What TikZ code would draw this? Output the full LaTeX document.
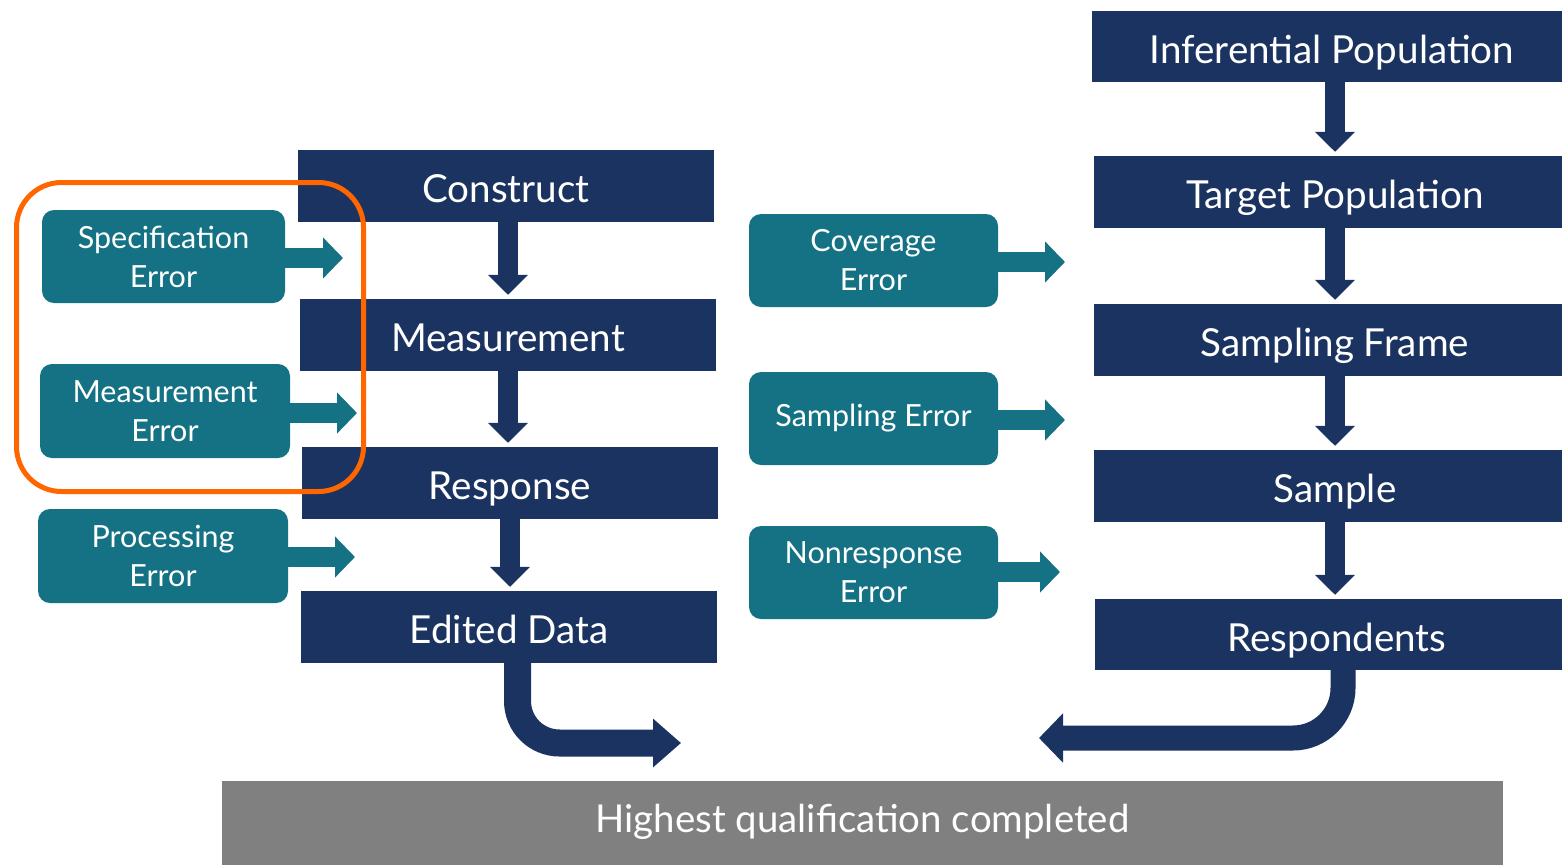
\documentclass[tikz,border=0pt]{standalone}
\usepackage{fontspec}
\setmainfont{Lato}
\usetikzlibrary{arrows.meta}
\definecolor{navy}{HTML}{1B3360}
\definecolor{teal2}{HTML}{147284}
\definecolor{orng}{HTML}{FF6600}
\definecolor{gbar}{HTML}{808080}
\tikzset{
  stage/.style={fill=navy, text=white, inner sep=0pt, font=\fontsize{38.6}{44}\selectfont, minimum height=72pt, text height=33pt, text depth=0pt},
  errbox/.style={fill=teal2, text=white, rounded corners=12pt, inner sep=0pt, align=center, font=\fontsize{30.5}{39}\selectfont, minimum width=249pt, minimum height=93pt},
  downarr/.style={navy, line width=20pt, -{Triangle[length=20pt,width=39pt]}, shorten >=4pt},
  errarr/.style={teal2, line width=20pt, -{Triangle[length=20pt,width=40pt]}}
}
\begin{document}
\begin{tikzpicture}[x=1pt,y=-1pt]
\useasboundingbox (0,0) rectangle (1562,865);
% left column
\node[stage, minimum width=416pt] (construct) at (506,186) {Construct};
\node[stage, minimum width=416pt] (measure) at (508,335) {Measurement};
\node[stage, minimum width=416pt] (response) at (510,483) {Response};
\node[stage, minimum width=416pt] (edited) at (509,627) {Edited Data};
% right column
\node[stage, minimum width=470pt, minimum height=71pt] (infpop) at (1327,46.5) {\hspace*{10pt}Inferential Population};
\node[stage, minimum width=468pt] (tarpop) at (1328,192) {\hspace*{14pt}Target Population};
\node[stage, minimum width=468pt] (frame) at (1328,340) {\hspace*{14pt}Sampling Frame};
\node[stage, minimum width=468pt] (sample) at (1328,486) {\hspace*{14pt}Sample};
\node[stage, minimum width=467pt, minimum height=71pt] (resp) at (1328.5,634.5) {\hspace*{17pt}Respondents};
% error boxes
\node[errbox, minimum width=243pt] (specerr) at (163.5,256.5) {Specification\\Error};
\node[errbox, minimum width=250pt, minimum height=94pt] (measerr) at (165,411) {Measurement\\Error};
\node[errbox, minimum width=250pt, minimum height=94pt] (procerr) at (163,556) {Processing\\Error};
\node[errbox] (coverr) at (873.5,260.5) {Coverage\\Error};
\node[errbox] (samperr) at (873.5,418.5) {Sampling Error};
\node[errbox] (nonerr) at (873.5,572.5) {Nonresponse\\Error};
% bottom bar
\node[fill=gbar, text=white, inner sep=0pt, minimum width=1281pt, minimum height=84pt, text height=29pt, text depth=10pt, font=\fontsize{38.4}{44}\selectfont] (bar) at (862.5,823) {Highest qualification completed};
% error arrow tips
\coordinate (specT) at (343,258);
\coordinate (measT) at (357,413);
\coordinate (procT) at (355,557);
\coordinate (covT) at (1065,262);
\coordinate (sampT) at (1065,420);
\coordinate (nonT) at (1060,572);
\draw[errarr] (specerr.east |- specT) -- (specT);
\draw[errarr] (measerr.east |- measT) -- (measT);
\draw[errarr] (procerr.east |- procT) -- (procT);
\draw[errarr] ([xshift=-2pt]coverr.east |- covT) -- (covT);
\draw[errarr] ([xshift=-2pt]samperr.east |- sampT) -- (sampT);
\draw[errarr] ([xshift=-2pt]nonerr.east |- nonT) -- (nonT);
% down arrows
\draw[downarr] ([xshift=2pt]construct.south) -- ([xshift=2pt]construct.south |- measure.north);
\draw[downarr] (measure.south) -- (measure.south |- response.north);
\draw[downarr] (response.south) -- (response.south |- edited.north);
\draw[downarr] ([xshift=8pt]infpop.south) -- ([xshift=8pt]infpop.south |- tarpop.north);
\draw[downarr] ([xshift=7pt]tarpop.south) -- ([xshift=7pt]tarpop.south |- frame.north);
\draw[downarr] ([xshift=7pt]frame.south) -- ([xshift=7pt]frame.south |- sample.north);
\draw[downarr] ([xshift=7pt]sample.south) -- ([xshift=7pt]sample.south |- resp.north);
% curved arrows
\coordinate (edT) at (681,743);
\coordinate (respT) at (1039,738);
\draw[navy, line width=27pt, rounded corners=42pt, -{Triangle[length=28pt,width=47pt]}] ([xshift=8.5pt]edited.south) -- ([xshift=8.5pt]edited.south |- edT) -- (edT);
\draw[navy, line width=25pt, rounded corners=50pt, -{Triangle[length=24pt,width=48pt]}] ([xshift=14.5pt]resp.south) -- ([xshift=14.5pt]resp.south |- respT) -- (respT);
% highlight
\draw[orng, line width=5pt, rounded corners=45pt] (16.5,182.5) rectangle (363.5,491.5);
\end{tikzpicture}
\end{document}
